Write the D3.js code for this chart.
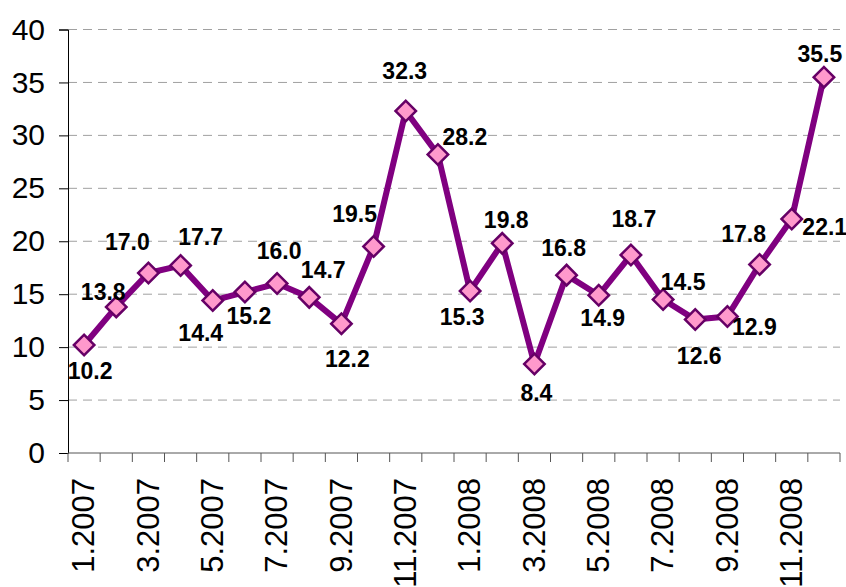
<!DOCTYPE html>
<html>
<head>
<meta charset="utf-8">
<script src="https://cdn.jsdelivr.net/npm/d3@7"></script>
<style>
  body { margin: 0; background: #fff; }
  text { font-family: Arial, "Liberation Sans", sans-serif; fill: #000; }
</style>
</head>
<body>
<script>
// monthly values 1.2007 - 12.2008
const months = ["1.2007","2.2007","3.2007","4.2007","5.2007","6.2007","7.2007","8.2007","9.2007","10.2007","11.2007","12.2007",
                "1.2008","2.2008","3.2008","4.2008","5.2008","6.2008","7.2008","8.2008","9.2008","10.2008","11.2008","12.2008"];
const values = [10.2, 13.8, 17.0, 17.7, 14.4, 15.2, 16.0, 14.7, 12.2, 19.5, 32.3, 28.2,
                15.3, 19.8, 8.4, 16.8, 14.9, 18.7, 14.5, 12.6, 12.9, 17.8, 22.1, 35.5];
const yTicks = [0, 5, 10, 15, 20, 25, 30, 35, 40];

// where each value label sits relative to its marker
const labelDx = [6, -13, -21, 20, -12, 4, 2, 14, 6, -19, -1, 27, -8, 4, 2, -3, 4, 3, 20, 4, 27, -16, 33, -4];
const labelDy = [26, -15, -31, -29, 32, 24, -33, -28, 35, -33, -40, -18, 26, -24, 29, -27, 22, -36, -18, 36, 10, -31, 8, -23];

const width = 846, height = 587;
const plotLeft = 68, plotRight = 840, plotTop = 29.5, plotBottom = 453;

const svg = d3.select("body").append("svg")
  .attr("width", width)
  .attr("height", height);

const x = d3.scaleBand().domain(months).range([plotLeft, plotRight]);
const y = d3.scaleLinear().domain([0, 40]).range([plotBottom, plotTop]);
const cx = d => x(d) + x.bandwidth() / 2;

// gridlines
svg.append("g")
  .selectAll("line")
  .data(yTicks.filter(t => t > 0))
  .enter().append("line")
  .attr("x1", plotLeft).attr("x2", plotRight)
  .attr("y1", d => y(d)).attr("y2", d => y(d))
  .attr("stroke", "#a0a0a0")
  .attr("stroke-width", 1)
  .attr("stroke-dasharray", "9,6");

// y axis
const yAxis = svg.append("g")
  .attr("transform", `translate(${plotLeft},0)`)
  .call(d3.axisLeft(y).tickValues(yTicks).tickSize(9).tickPadding(14));
yAxis.select(".domain").attr("stroke", "#000");
yAxis.selectAll(".tick line").attr("stroke", "#000");
yAxis.selectAll("text")
  .attr("font-size", 30)
  .attr("font-family", "Arial, 'Liberation Sans', sans-serif")
  .attr("fill", "#000");

// x axis: ticks between months
const xAxisG = svg.append("g");
xAxisG.append("line")
  .attr("x1", plotLeft).attr("x2", plotRight)
  .attr("y1", plotBottom).attr("y2", plotBottom)
  .attr("stroke", "#555");
xAxisG.selectAll("line.tk")
  .data(months.concat(["end"]))
  .enter().append("line")
  .attr("class", "tk")
  .attr("x1", (d, i) => plotLeft + i * x.bandwidth())
  .attr("x2", (d, i) => plotLeft + i * x.bandwidth())
  .attr("y1", plotBottom).attr("y2", plotBottom + 9)
  .attr("stroke", "#555");
xAxisG.selectAll("text")
  .data(months.filter((d, i) => i % 2 === 0))
  .enter().append("text")
  .attr("transform", d => `translate(${cx(d) - 1},${478}) rotate(-90)`)
  .attr("text-anchor", "end")
  .attr("dy", "0.36em")
  .attr("font-size", 31)
  .text(d => d);

// line
const line = d3.line()
  .x((d, i) => cx(months[i]))
  .y(d => y(d));

svg.append("path")
  .datum(values)
  .attr("d", line)
  .attr("fill", "none")
  .attr("stroke", "#800080")
  .attr("stroke-width", 6)
  .attr("stroke-linejoin", "round");

// markers
svg.append("g")
  .selectAll("path")
  .data(values)
  .enter().append("path")
  .attr("d", d3.symbol(d3.symbolSquare, 210))
  .attr("transform", (d, i) => `translate(${cx(months[i])},${y(d)}) rotate(45)`)
  .attr("fill", "#ff99cc")
  .attr("stroke", "#660066")
  .attr("stroke-width", 2.5);

// value labels
svg.append("g")
  .selectAll("text")
  .data(values)
  .enter().append("text")
  .attr("x", (d, i) => cx(months[i]) + labelDx[i])
  .attr("y", (d, i) => y(d) + labelDy[i])
  .attr("dy", "0.36em")
  .attr("text-anchor", "middle")
  .attr("font-size", 23)
  .attr("font-weight", "bold")
  .text(d => d.toFixed(1));
</script>
</body>
</html>
